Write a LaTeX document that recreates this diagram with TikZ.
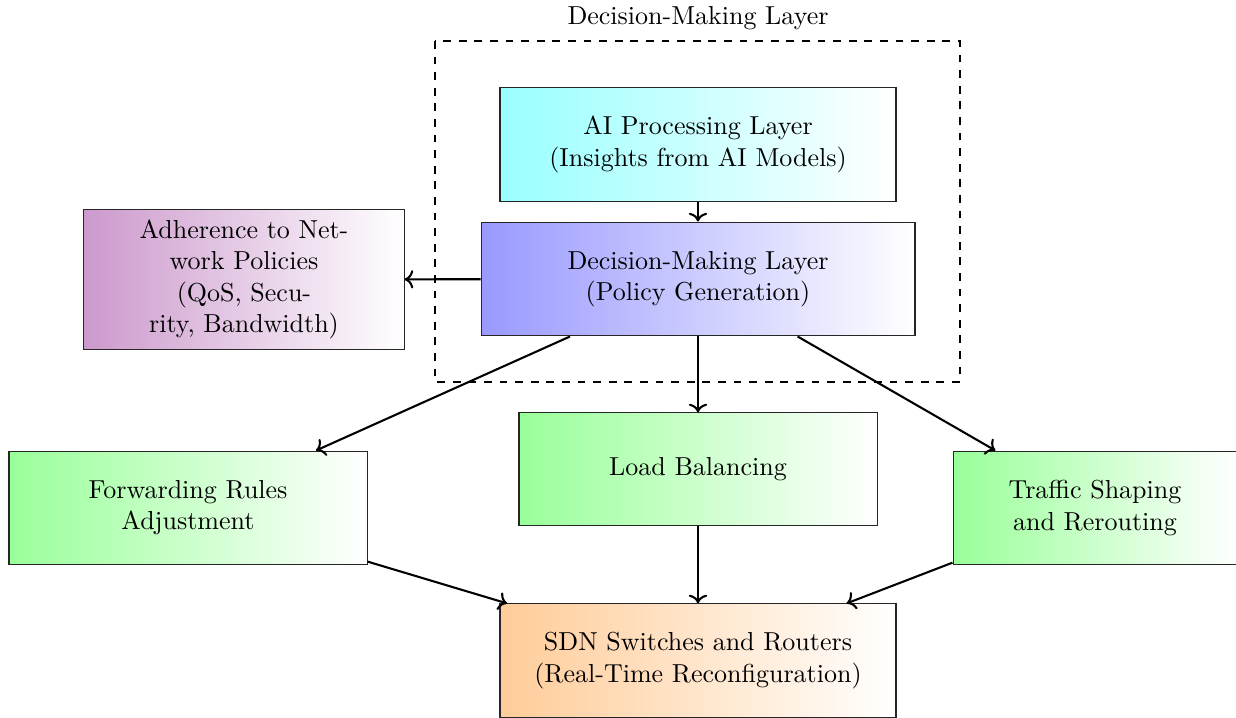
\documentclass[tikz,border=0pt]{standalone}
\usetikzlibrary{arrows.meta}
\begin{document}
\begin{tikzpicture}[x=0.3846pt, y=-0.3846pt,
  box/.style={draw=black!85, thin, inner sep=0pt, align=center, shading=axis, shading angle=90, right color=white},
  link/.style={->, thick}]
\useasboundingbox (0,0) rectangle (1236,718);

% dashed frame around the decision stage
\draw[thick, dashed] (435,41) rectangle (960,382);
\node (frametitle) at (698,18) {Decision-Making Layer};

\node[box, left color=cyan!40, minimum width=152.3pt, minimum height=44.2pt] (ai) at (698,144.5)
  {AI Processing Layer\\(Insights from AI Models)};
\node[box, left color=blue!40, minimum width=166.9pt, minimum height=43.8pt] (dm) at (698,279)
  {Decision-Making Layer\\(Policy Generation)};
\node[box, left color=violet!40, minimum width=123.1pt, minimum height=53.5pt] (adh) at (244,279.5)
  {Adherence to Net-\\work Policies\\(QoS, Secu-\\rity, Bandwidth)};
\node[box, left color=green!40, minimum width=137.7pt, minimum height=43.8pt] (fwd) at (188,508)
  {Forwarding Rules\\Adjustment};
\node[box, left color=green!40, minimum width=137.7pt, minimum height=43.1pt] (lb) at (698,469)
  {Load Balancing};
\node[box, left color=green!40, minimum width=109.2pt, minimum height=43.8pt] (ts) at (1095,508)
  {Traffic Shaping\\and Rerouting};
\node[box, left color=orange!40, minimum width=152.3pt, minimum height=43.5pt] (sdn) at (698,660.5)
  {SDN Switches and Routers\\(Real-Time Reconfiguration)};

\draw[link] (ai) -- (dm);
\draw[link] (dm) -- (adh);
\draw[link] (dm) -- (fwd);
\draw[link] (dm) -- (lb);
\draw[link] (dm) -- (ts);
\draw[link] (fwd) -- (sdn);
\draw[link] (lb) -- (sdn);
\draw[link] (ts) -- (sdn);
\end{tikzpicture}
\end{document}
